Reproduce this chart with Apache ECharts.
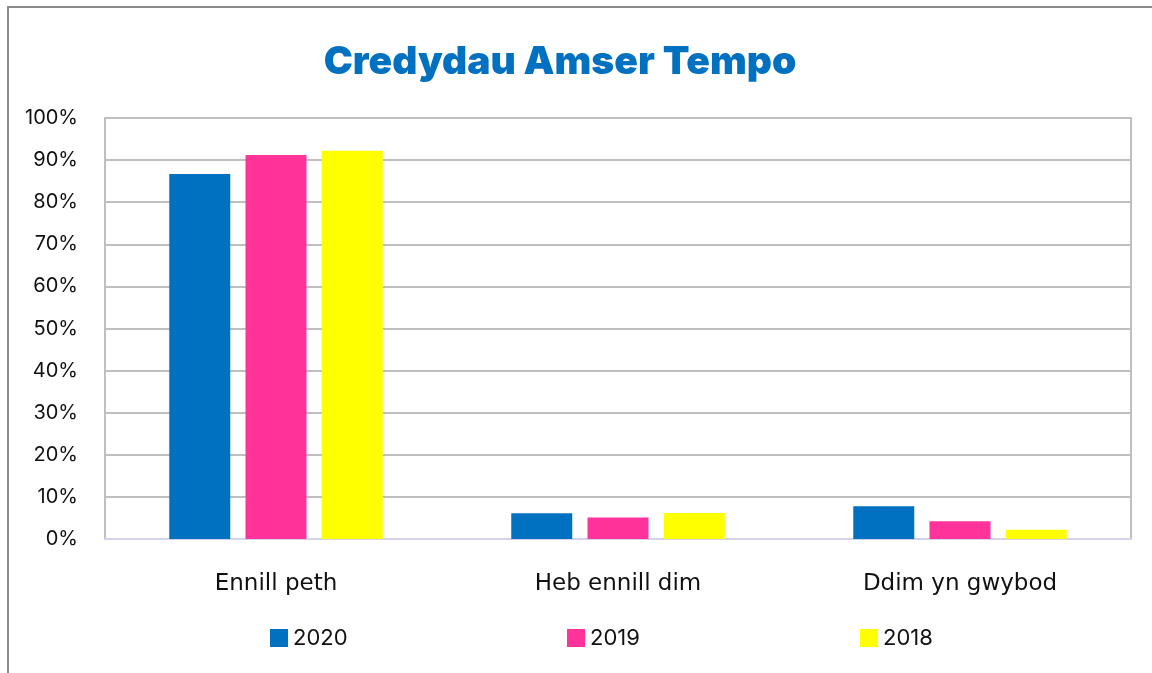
<!DOCTYPE html>
<html>
<head>
<meta charset="utf-8">
<script src="https://cdn.jsdelivr.net/npm/echarts@6/dist/echarts.min.js"></script>
<style>
  html, body { margin: 0; padding: 0; background: #fff; }
  #chart { width: 1152px; height: 673px; }
</style>
</head>
<body>
<div id="chart"></div>
<script>
// categories and values (percent)
var categories = ['Ennill peth', 'Heb ennill dim', 'Ddim yn gwybod'];
var years = ['2020', '2019', '2018'];
var values2020 = [86.7, 6.1, 7.8];
var values2019 = [91.2, 5.1, 4.2];
var values2018 = [92.2, 6.2, 2.2];
var colors = ['#0070C0', '#FF3399', '#FFFF00'];

var font = 'Inter, "Open Sans", sans-serif';
var wideFont = '"DejaVu Sans", sans-serif';
var chart = echarts.init(document.getElementById('chart'));

function legendAt(name, left) {
  return {
    data: [name],
    left: left,
    top: 627,
    padding: 0,
    itemWidth: 18,
    itemHeight: 18,
    itemGap: 6,
    icon: 'rect',
    textStyle: { fontFamily: font, fontSize: 22, color: '#111' }
  };
}

var option = {
  animation: false,
  color: colors,
  title: {
    text: 'Credydau Amser Tempo',
    left: 555,
    textAlign: 'center',
    top: 38,
    textStyle: { fontFamily: font, fontWeight: 900, fontSize: 39, color: '#0070C0' }
  },
  graphic: [{
    type: 'rect',
    shape: { x: 8, y: 7, width: 1160, height: 700 },
    style: { fill: 'none', stroke: '#8a8a8a', lineWidth: 2 },
    silent: true
  }],
  legend: [
    legendAt(years[0], 270),
    legendAt(years[1], 567),
    legendAt(years[2], 860)
  ],
  grid: {
    left: 105, right: 21, top: 118, bottom: 134,
    show: true, borderColor: '#BFBFBF', borderWidth: 2
  },
  xAxis: {
    type: 'category',
    data: categories,
    axisTick: { show: false },
    axisLine: { lineStyle: { color: '#D4D2EA', width: 2 } },
    axisLabel: { margin: 34, fontFamily: wideFont, fontSize: 23, color: '#111' }
  },
  yAxis: {
    type: 'value',
    min: 0, max: 100, interval: 10,
    axisLine: { show: false },
    axisTick: { show: false },
    splitLine: { lineStyle: { color: '#BFBFBF', width: 2 } },
    axisLabel: { margin: 27, fontFamily: font, fontSize: 20, color: '#111', formatter: '{value}%', padding: [7, 0, 0, 0] }
  },
  series: [
    { name: years[0], type: 'bar', data: values2020, barWidth: 61, barGap: '25%' },
    { name: years[1], type: 'bar', data: values2019, barWidth: 61, barGap: '25%' },
    { name: years[2], type: 'bar', data: values2018, barWidth: 61, barGap: '25%' }
  ]
};
chart.setOption(option);
</script>
</body>
</html>
